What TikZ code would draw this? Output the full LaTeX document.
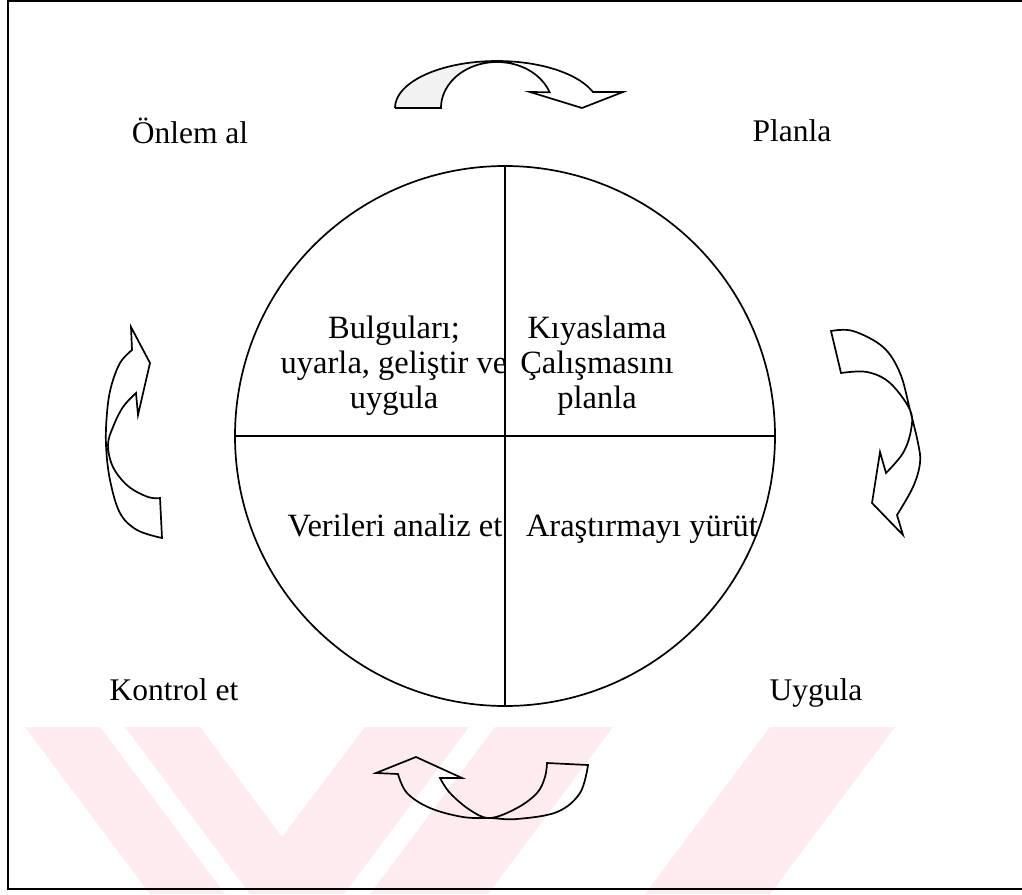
\documentclass[tikz,border=0pt]{standalone}
\usepackage{fontspec}
\setmainfont{Liberation Serif}
\definecolor{wmpink}{RGB}{253,235,239}
\begin{document}
\begin{tikzpicture}[x=1pt,y=-1pt,
  lbl/.style={font=\fontsize{31.5}{35}\selectfont, inner sep=0pt, anchor=base},
  inlbl/.style={font=\fontsize{32.5}{36}\selectfont, inner sep=0pt, anchor=base},
  blk/.style={font=\fontsize{32.5}{35}\selectfont, inner sep=0pt, align=center, anchor=north},
  band/.style={draw=black, line width=1.7pt, line join=miter},
  frameline/.style={line width=1.8pt},
  wm/.style={fill=wmpink, draw=none}]
\useasboundingbox (0,0) rectangle (1022,894);

% pale diagonal stripes along the bottom of the page
\fill[wm] (25,727) -- (100,727) -- (225,894) -- (150,894) -- cycle;
\fill[wm] (125,727) -- (200,727) -- (282,837) -- (365,727) -- (469,727) -- (344,894) -- (250,894) -- cycle;
\fill[wm] (495,727) -- (613,727) -- (488,894) -- (370,894) -- cycle;
\fill[wm] (770,727) -- (895,727) -- (770,894) -- (645,894) -- cycle;

% outer frame (left, top, bottom)
\coordinate (ftl) at (8,1);
\coordinate (ftr) at (1022,1);
\coordinate (fbl) at (8,889);
\coordinate (fbr) at (1022,889);
\draw[frameline] (ftr) -- (ftl) -- (fbl) -- (fbr);

% the quartered circle
\node[circle, draw, line width=1.7pt, minimum size=540pt, inner sep=0pt] (wheel) at (505,436) {};
\draw[line width=1.5pt] (wheel.north) -- (wheel.south);
\draw[line width=1.5pt] (wheel.west) -- (wheel.east);

% quadrant texts
\node[blk] (q1) at (394,316) {Bulguları;\\uyarla, geliştir ve\\uygula};
\node[blk] (q2) at (597,316) {Kıyaslama\\Çalışmasını\\planla};
\node[inlbl] (q3) at (395,536) {Verileri analiz et};
\node[inlbl] (q4) at (642,536) {Araştırmayı yürüt};

% step labels around the circle
\node[lbl] (onlem) at (190,143) {Önlem al};
\node[lbl] (planla) at (792,141) {Planla};
\node[lbl] (kontrol) at (174,700) {Kontrol et};
\node[lbl] (uygula) at (816,700) {Uygula};

% top curved arrow: shaded back half, then outline
\fill[gray!10] plot[domain=180:270, samples=30] ({497+102*cos(\x)}, {108+47*sin(\x)})
  -- plot[domain=270:180, samples=30] ({497+56*cos(\x)}, {108+46*sin(\x)}) -- cycle;
\draw[band] (395,108) -- (441,108)
  -- plot[domain=180:340, samples=50] ({497+56*cos(\x)}, {108+46*sin(\x)})
  -- (530,92) -- (582,108) -- (623,92)
  -- plot[domain=340:180, samples=50] ({497+102*cos(\x)}, {108+47*sin(\x)}) -- cycle;

% right curved arrow
\draw[band] (831,331) -- (841,373)
  -- plot[smooth, tension=0.6] coordinates {(841,373) (867,372) (890,383) (910,410) (911,430) (903,453) (886,473)}
  -- (880,452) -- (872,503) -- (903,535)
  -- plot[smooth, tension=0.6] coordinates {(897,515) (913,487) (920,463) (918,443) (910,410) (900,373) (883,347) (853,331) (831,331)}
  -- cycle;

% left curved arrow
\draw[band] (160,498) -- (162,538)
  -- plot[smooth, tension=0.6] coordinates {(162,538) (137,530) (120,513) (110,480) (106,445) (107,413) (111,387) (120,363) (132,350)}
  -- (131,327) -- (150,363) -- (138,415)
  -- plot[smooth, tension=0.6] coordinates {(136,393) (123,407) (113,427) (108,445) (113,467) (128,486) (148,497) (160,498)}
  -- cycle;

% bottom curved arrow
\draw[band] (547,763) -- (588,765)
  -- plot[smooth, tension=0.6] coordinates {(588,765) (580,793) (557,812) (517,819) (490,818) (463,817) (430,808) (407,793) (398,774)}
  -- (376,773) -- (416,757) -- (462,778)
  -- plot[smooth, tension=0.6] coordinates {(440,778) (450,793) (470,810) (490,818) (517,808) (537,793) (545,777) (547,763)}
  -- cycle;
\end{tikzpicture}
\end{document}
